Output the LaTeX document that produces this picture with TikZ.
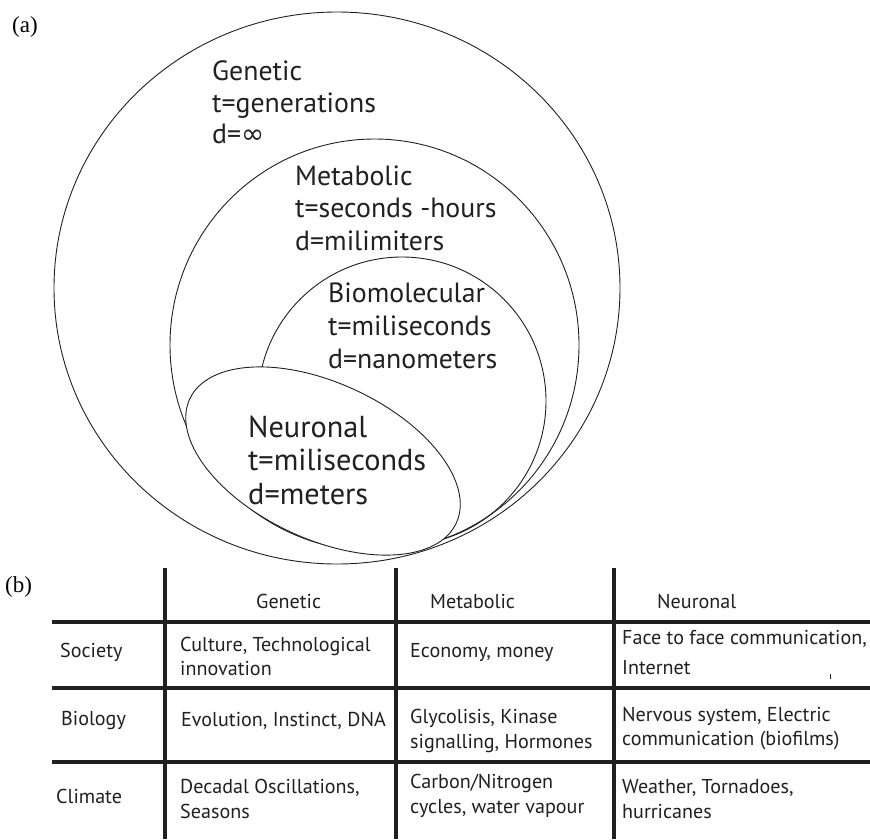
\documentclass[tikz,border=0pt]{standalone}
\usepackage{fontspec}
\setmainfont{PT Sans}
\newfontfamily\symfont{DejaVu Sans}
\newfontfamily\timesfont{Liberation Serif}
\definecolor{ink}{RGB}{35,31,32}
\begin{document}
\begin{tikzpicture}[x=1pt,y=-1pt,
  ring/.style={draw=ink, line width=0.9pt},
  lab/.style={anchor=base west, inner sep=0pt, text=ink, font=\fontsize{27.8}{32}\selectfont},
  nlab/.style={lab, font=\fontsize{30.3}{34}\selectfont},
  cell/.style={anchor=base west, inner sep=0pt, text=ink, font=\fontsize{20.1}{24}\selectfont},
  tag/.style={anchor=base west, inner sep=0pt, text=black, font=\timesfont\fontsize{23}{26}\selectfont},
  rule/.style={draw=ink, line width=4pt}]
\useasboundingbox (0,0) rectangle (870,839);

% ---------- (a) nested regions ----------
\node[tag] (taga) at (12,32) {(a)};
\coordinate (gc) at (337,288);
\coordinate (mc) at (374.5,345);
\coordinate (bc) at (402,401);
\coordinate (nc) at (323,461);
\draw[ring] (gc) ellipse [x radius=283, y radius=276];
\draw[ring] (mc) ellipse [x radius=204.5, y radius=206];
\draw[ring] (bc) circle [radius=144];
\draw[ring, fill=white, rotate around={-25:(nc)}] (nc) ellipse [x radius=147, y radius=78];

\node[lab] (g1) at (212,80)  {Genetic};
\node[lab] (g2) at (212,112) {t=generations};
\node[lab] (g3) at (212,143) {d={\symfont ∞}};

\node[lab] (m1) at (295,185) {Metabolic};
\node[lab] (m2) at (295,217) {t=seconds -hours};
\node[lab] (m3) at (295,250) {d=milimiters};

\node[lab] (b1) at (328,302) {Biomolecular};
\node[lab] (b2) at (328,335) {t=miliseconds};
\node[lab] (b3) at (328,368) {d=nanometers};

\node[nlab] (n1) at (248,437) {Neuronal};
\node[nlab] (n2) at (248,470) {t=miliseconds};
\node[nlab] (n3) at (248,504) {d=meters};

% ---------- (b) table ----------
\node[tag] (tagb) at (5,592) {(b)};
\coordinate (v1t) at (165,568); \coordinate (v1b) at (165,839);
\coordinate (v2t) at (396,568); \coordinate (v2b) at (396,839);
\coordinate (v3t) at (614,568); \coordinate (v3b) at (614,839);
\coordinate (h1l) at (52,622);  \coordinate (h1r) at (870,622);
\coordinate (h2l) at (52,688);  \coordinate (h2r) at (870,688);
\coordinate (h3l) at (52,762);  \coordinate (h3r) at (870,762);
\draw[rule] (h1l) -- (h1r);
\draw[rule] (h2l) -- (h2r);
\draw[rule] (h3l) -- (h3r);
\draw[rule] (v1t) -- (v1b);
\draw[rule] (v2t) -- (v2b);
\draw[rule] (v3t) -- (v3b);
\coordinate (tk1) at (830,674); \coordinate (tk2) at (830,679);
\draw[ink, line width=1pt] (tk1) -- (tk2);

\node[cell] (hg) at (256,608) {Genetic};
\node[cell] (hm) at (430,608) {Metabolic};
\node[cell] (hn) at (657,608) {Neuronal};

\node[cell] (rs) at (60,657) {Society};
\node[cell] (rb) at (61,725) {Biology};
\node[cell] (rc) at (56,803) {Climate};

\node[cell] (c11a) at (180,651) {Culture, Technological};
\node[cell] (c11b) at (180,675) {innovation};
\node[cell] (c21)  at (181,726) {Evolution, Instinct, DNA};
\node[cell] (c31a) at (180,793) {Decadal Oscillations,};
\node[cell] (c31b) at (180,818) {Seasons};

\node[cell] (c12)  at (410,657) {Economy, money};
\node[cell] (c22a) at (410,723) {Glycolisis, Kinase};
\node[cell] (c22b) at (410,748) {signalling, Hormones};
\node[cell] (c32a) at (410,788) {Carbon/Nitrogen};
\node[cell] (c32b) at (410,813) {cycles, water vapour};

\node[cell] (c13a) at (622,644) {Face to face communication,};
\node[cell] (c13b) at (622,674) {Internet};
\node[cell] (c23a) at (622,721) {Nervous system, Electric};
\node[cell] (c23b) at (622,745) {communication (biofilms)};
\node[cell] (c33a) at (622,793) {Weather, Tornadoes,};
\node[cell] (c33b) at (622,818) {hurricanes};
\end{tikzpicture}
\end{document}
